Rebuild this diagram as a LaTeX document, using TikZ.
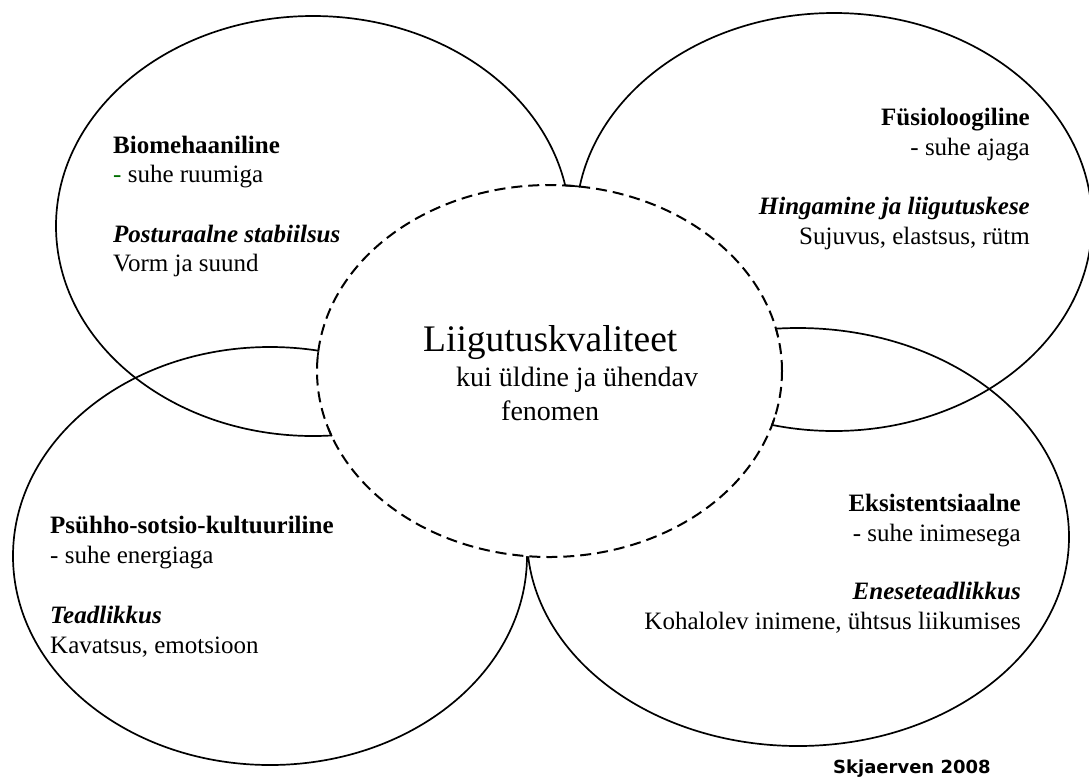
\documentclass[tikz,border=0pt]{standalone}
\usepackage{fontspec}
\setmainfont{Liberation Serif}
\newfontfamily\skfont{DejaVu Sans}
\definecolor{dashgreen}{RGB}{0,110,0}
\begin{document}
\begin{tikzpicture}[x=1pt,y=-1pt,
  petal/.style={draw=black, line width=1.7pt},
  core/.style={draw=black, fill=white, line width=2pt, dash pattern=on 11pt off 6pt},
  tick/.style={draw=black, line width=1.7pt},
  ptxt/.style={inner sep=0pt, font=\fontsize{25}{30}\selectfont},
  ltxt/.style={ptxt, anchor=base west},
  rtxt/.style={ptxt, anchor=base east},
  ctxt/.style={inner sep=0pt, anchor=base west}]
\useasboundingbox (0,0) rectangle (1089,780);
\begin{scope}
\clip (0,0) rectangle (1089,780);
% petals
\draw[petal] (313,226) ellipse [x radius=257pt, y radius=210pt];
\draw[petal] (834,222) ellipse [x radius=258pt, y radius=209pt];
\draw[petal] (270,556) ellipse [x radius=257pt, y radius=209pt];
\draw[petal] (798,537) ellipse [x radius=271pt, y radius=209pt];
\end{scope}
% core
\draw[core] (549.5,371) ellipse [x radius=232.5pt, y radius=186pt];
% small solid joins along the core
\draw[tick] plot[domain=82.5:86.2, samples=6] ({549.5+232.5*cos(\x)},{371-186*sin(\x)});
\draw[tick] plot[domain=174:176, samples=4] ({549.5+232.5*cos(\x)},{371-186*sin(\x)});
\draw[tick] plot[domain=198:200.5, samples=4] ({549.5+232.5*cos(\x)},{371-186*sin(\x)});
\draw[tick] plot[domain=10.5:13, samples=4] ({549.5+232.5*cos(\x)},{371-186*sin(\x)});
\draw[tick] plot[domain=-17:-14.5, samples=4] ({549.5+232.5*cos(\x)},{371-186*sin(\x)});
% centre text
\node[ctxt, font=\fontsize{37.5}{42}\selectfont] (c1) at (423,351) {Liigutuskvaliteet};
\node[ctxt, font=\fontsize{28}{32}\selectfont] (c2) at (456,386) {kui üldine ja ühendav};
\node[ctxt, font=\fontsize{28}{32}\selectfont] (c3) at (501,420) {fenomen};
% top-left
\node[ltxt] (tl1) at (113,153) {\textbf{Biomehaaniline}};
\node[ltxt] (tl2) at (113,182) {\textcolor{dashgreen}{-} suhe ruumiga};
\node[ltxt] (tl3) at (113,242) {\textbf{\itshape Posturaalne stabiilsus}};
\node[ltxt] (tl4) at (113,271) {Vorm ja suund};
% top-right
\node[rtxt] (tr1) at (1030,125) {\textbf{Füsioloogiline}};
\node[rtxt] (tr2) at (1030,155) {- suhe ajaga};
\node[rtxt] (tr3) at (1030,214) {\textbf{\itshape Hingamine ja liigutuskese}};
\node[rtxt] (tr4) at (1030,244) {Sujuvus, elastsus, rütm};
% bottom-left
\node[ltxt] (bl1) at (50,533) {\textbf{Psühho-sotsio-kultuuriline}};
\node[ltxt] (bl2) at (50,563) {- suhe energiaga};
\node[ltxt] (bl3) at (50,623) {\textbf{\itshape Teadlikkus}};
\node[ltxt] (bl4) at (50,653) {Kavatsus, emotsioon};
% bottom-right
\node[rtxt] (br1) at (1021,511) {\textbf{Eksistentsiaalne}};
\node[rtxt] (br2) at (1021,541) {- suhe inimesega};
\node[rtxt] (br3) at (1021,599) {\textbf{\itshape Eneseteadlikkus}};
\node[rtxt] (br4) at (1021,629) {Kohalolev inimene, ühtsus liikumises};
% source
\node[inner sep=0pt, anchor=base west, font=\skfont\bfseries\fontsize{18}{22}\selectfont] (src) at (833,773) {Skjaerven 2008};
\end{tikzpicture}
\end{document}
